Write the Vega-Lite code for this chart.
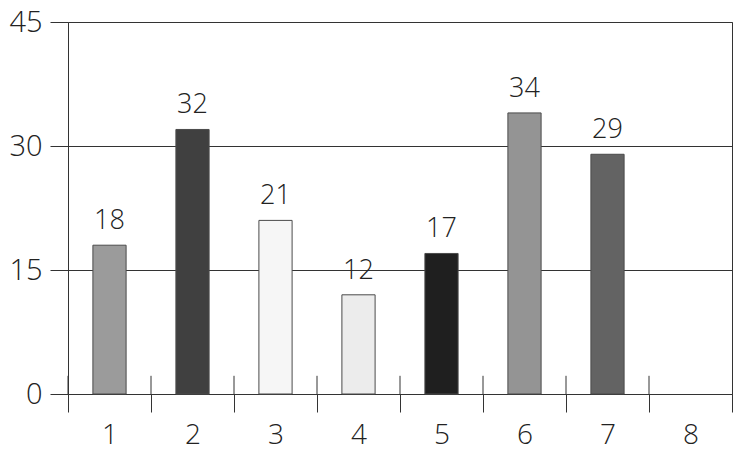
{
  "$schema": "https://vega.github.io/schema/vega-lite/v6.json",
  "width": 664,
  "height": 372,
  "autosize": "none",
  "padding": {"left": 68, "top": 22, "right": 8, "bottom": 59},
  "background": "white",
  "config": {
    "font": "Open Sans",
    "view": {"stroke": "#333333", "strokeWidth": 1}
  },
  "data": {
    "values": [
      {"group": 1, "value": 18},
      {"group": 2, "value": 32},
      {"group": 3, "value": 21},
      {"group": 4, "value": 12},
      {"group": 5, "value": 17},
      {"group": 6, "value": 34},
      {"group": 7, "value": 29},
      {"group": 8, "value": null}
    ]
  },
  "encoding": {
    "x": {
      "field": "group",
      "type": "ordinal",
      "scale": {"domain": [1, 2, 3, 4, 5, 6, 7, 8], "paddingInner": 0, "paddingOuter": 0},
      "axis": {
        "title": null,
        "labelAngle": 0,
        "tickBand": "extent",
        "tickSize": 18,
        "tickColor": "#333333",
        "domainColor": "#333333",
        "labelFont": "Open Sans",
        "labelFontWeight": 300,
        "labelFontSize": 28,
        "labelColor": "#222222",
        "labelPadding": 9
      }
    }
  },
  "layer": [
    {
      "mark": {"type": "bar", "width": {"band": 0.4}, "stroke": "#4a4a4a", "strokeWidth": 1},
      "encoding": {
        "y": {
          "field": "value",
          "type": "quantitative",
          "scale": {"domain": [0, 45]},
          "axis": {
            "title": null,
            "values": [0, 15, 30, 45],
            "grid": true,
            "gridColor": "#333333",
            "gridOpacity": 1,
            "domain": false,
            "tickSize": 18,
            "tickColor": "#333333",
            "labelFont": "Open Sans",
            "labelFontWeight": 300,
            "labelFontSize": 29,
            "labelColor": "#222222",
            "labelPadding": 8
          }
        },
        "color": {
          "field": "group",
          "type": "ordinal",
          "scale": {
            "domain": [1, 2, 3, 4, 5, 6, 7, 8],
            "range": ["#9b9b9b", "#404040", "#f6f6f6", "#ececec", "#1f1f1f", "#949494", "#636363", "#ffffff"]
          },
          "legend": null
        }
      }
    },
    {
      "mark": {"type": "text", "baseline": "bottom", "dy": -10, "fontSize": 27, "fontWeight": 300, "fill": "#222222"},
      "encoding": {
        "y": {"field": "value", "type": "quantitative"},
        "text": {"field": "value", "type": "quantitative"}
      }
    },
    {
      "mark": {"type": "rule", "color": "#333333", "strokeWidth": 1},
      "encoding": {
        "x": {"field": "group", "type": "ordinal", "bandPosition": 0},
        "y": {"datum": 0},
        "y2": {"datum": 2.2}
      }
    }
  ]
}
